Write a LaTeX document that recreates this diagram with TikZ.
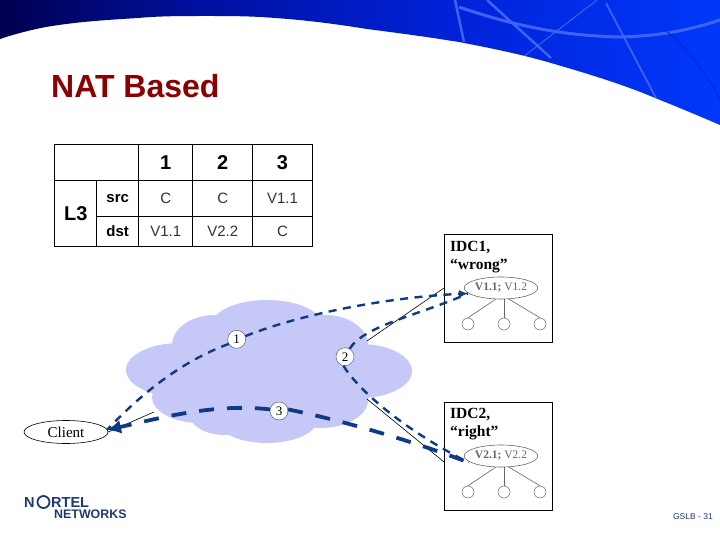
\documentclass[tikz,border=0pt]{standalone}
\usepackage{fontspec}
\setmainfont{Liberation Sans}
\newfontfamily\serifx{Liberation Serif}
\usetikzlibrary{arrows.meta,shapes.geometric}
\definecolor{arrowblue}{HTML}{0F3A85}
\definecolor{cloudfill}{HTML}{C6C8F8}
\definecolor{titlered}{HTML}{8B0000}
\definecolor{logoblue}{HTML}{1F3A72}
\definecolor{leafgray}{HTML}{666666}
\definecolor{bannerA}{HTML}{000050}
\definecolor{bannerB}{HTML}{0010A0}
\definecolor{bannerC}{HTML}{0022D8}
\definecolor{bannerD}{HTML}{0038FA}
\definecolor{streak}{HTML}{3F62F0}
\tikzset{
  x=1pt,y=-1pt,
  tabletext/.style={font=\fontsize{15}{15}\selectfont,text=black!80,inner sep=0pt},
  tablehead/.style={font=\bfseries\fontsize{20}{20}\selectfont,inner sep=0pt},
  tablerow/.style={font=\bfseries\fontsize{15}{15}\selectfont,inner sep=0pt},
  gridline/.style={draw=black,line width=0.7pt},
  idcbox/.style={draw=black,line width=0.7pt,fill=white,minimum width=108.5pt,minimum height=108pt,inner sep=0pt},
  idctext/.style={font=\serifx\bfseries\fontsize{15.5}{18}\selectfont,align=left,anchor=north west,inner sep=0pt},
  vipoval/.style={ellipse,draw=leafgray,fill=white,line width=0.6pt,minimum width=66pt,minimum height=22pt,inner sep=0pt,text=leafgray,font=\serifx\fontsize{11.5}{12}\selectfont},
  leaf/.style={circle,draw=leafgray,fill=white,line width=0.5pt,minimum size=12pt,inner sep=0pt},
  leafline/.style={draw=leafgray,line width=0.6pt},
  stepnum/.style={circle,draw=black!70,fill=white,line width=0.4pt,minimum size=18pt,inner sep=0pt,font=\serifx\fontsize{13}{13}\selectfont},
  clientoval/.style={ellipse,draw=black,fill=white,line width=0.6pt,minimum width=84pt,minimum height=23pt,inner sep=0pt,font=\serifx\fontsize{15}{15}\selectfont},
  thinlink/.style={draw=black,line width=0.6pt},
  flowmed/.style={draw=arrowblue,line width=2.4pt,dash pattern=on 8pt off 6.5pt},
  flowthick/.style={draw=arrowblue,line width=3.8pt,dash pattern=on 15pt off 13pt},
  headtip/.style={-{Latex[length=14pt,width=14pt]}},
  smallhead/.style={-{Latex[length=9pt,width=8pt]}},
  logotext/.style={anchor=base west,inner sep=0pt,text=logoblue,font=\bfseries\fontsize{14.5}{15}\selectfont},
}
\begin{document}
\begin{tikzpicture}
\useasboundingbox (0,0) rectangle (720,540);
\fill[white] (0,0) rectangle (720,540);
% banner
\begin{scope}
\clip (0,0) -- (720,0) -- (720,125) .. controls (690,112) and (665,102) .. (643,93)
  .. controls (612,81) and (582,72) .. (551,63)
  .. controls (520,54) and (490,48) .. (459,42)
  .. controls (428,37) and (398,33) .. (367,29)
  .. controls (336,24) and (305,20) .. (275,18)
  .. controls (250,16) and (230,16) .. (207,16)
  .. controls (180,16) and (160,16) .. (138,18)
  .. controls (105,20) and (75,22) .. (46,27)
  .. controls (30,30) and (15,34) .. (0,39) -- cycle;
\shade[left color=bannerC,right color=bannerD] (449,0) rectangle (720,130);
\shade[left color=bannerB,right color=bannerC] (199,0) rectangle (450,130);
\shade[left color=bannerA,right color=bannerB] (0,0) rectangle (200,130);
\draw[streak,line width=2.5pt] (455,0) -- (464,42);
\draw[streak,line width=2.5pt] (487,0) -- (551,58);
\draw[streak,line width=3pt] (459,7) .. controls (520,28) and (570,36) .. (620,37) .. controls (660,36) and (690,30) .. (720,20);
\draw[streak,line width=1.8pt] (606,3) -- (657,100);
\draw[streak,line width=1pt] (597,0) -- (523,57);
\draw[bannerC,line width=0.8pt] (665,30) .. controls (690,50) and (710,80) .. (720,100);
\end{scope}
% title
\node[anchor=base west,inner sep=0pt,text=titlered,font=\bfseries\fontsize{32}{32}\selectfont] (title) at (51,98) {NAT Based};
% table
\draw[gridline] (54.7,144.3) rectangle (312.3,246.3);
\draw[gridline] (54.7,180.7) -- (312.3,180.7);
\draw[gridline] (96.7,216.3) -- (312.3,216.3);
\draw[gridline] (96.7,180.7) -- (96.7,246.3);
\draw[gridline] (138.7,144.3) -- (138.7,246.3);
\draw[gridline] (192.7,144.3) -- (192.7,246.3);
\draw[gridline] (252.7,144.3) -- (252.7,246.3);
\node[tablehead] (h1) at (165.7,163) {1};
\node[tablehead] (h2) at (222.7,163) {2};
\node[tablehead] (h3) at (282.5,163) {3};
\node[font=\bfseries\fontsize{20}{20}\selectfont,inner sep=0pt] (l3) at (75.7,213.5) {L3};
\node[tablerow] (src) at (117.7,199) {src};
\node[tablerow] (dst) at (117.7,231.5) {dst};
\node[tabletext] (c11) at (165.7,198.5) {C};
\node[tabletext] (c12) at (222.7,198.5) {C};
\node[tabletext] (c13) at (282.5,198.5) {V1.1};
\node[tabletext] (c21) at (165.7,231.5) {V1.1};
\node[tabletext] (c22) at (222.7,231.5) {V2.2};
\node[tabletext] (c23) at (282.5,231.5) {C};
% cloud
\fill[cloudfill]
  (180,370) ellipse [x radius=54,y radius=27]
  (360,371) ellipse [x radius=52,y radius=27]
  (267,325) ellipse [x radius=55,y radius=25]
  (215,345) ellipse [x radius=43,y radius=30]
  (325,345) ellipse [x radius=43,y radius=30]
  (270,370) ellipse [x radius=100,y radius=50]
  (200,397) ellipse [x radius=48,y radius=26]
  (225,415) ellipse [x radius=35,y radius=20]
  (267,420) ellipse [x radius=50,y radius=23]
  (320,400) ellipse [x radius=48,y radius=28];
% IDC boxes
\node[idcbox] (box1) at (498.3,288) {};
\node[idcbox] (box2) at (498.3,456) {};
\node[idctext] (t1) at (450,241) {IDC1,\\“wrong”};
\node[idctext] (t2) at (450,408.5) {IDC2,\\“right”};
\node[vipoval] (vip1) at (501,288) {\textbf{V1.1;} V1.2};
\node[vipoval] (vip2) at (501,456) {\textbf{V2.1;} V2.2};
\foreach \b/\y in {1/324,2/492}{
  \node[leaf] (l\b a) at (468,\y) {};
  \node[leaf] (l\b b) at (504,\y) {};
  \node[leaf] (l\b c) at (540,\y) {};
  \draw[leafline] (vip\b.-115) -- (l\b a.north);
  \draw[leafline] (vip\b.south -| l\b b.north) -- (l\b b.north);
  \draw[leafline] (vip\b.-55) -- (l\b c.north);
}
% client
\node[clientoval] (client) at (66,432) {Client};
% thin links
\coordinate (cl1) at (367,341);
\coordinate (cl2) at (367,399);
\coordinate (cl3) at (154,412);
\coordinate (b1w) at (444,288);
\coordinate (b2w) at (444,462);
\draw[thinlink] (cl1) -- (b1w);
\draw[thinlink] (cl2) -- (b2w);
\draw[thinlink] (cl3) -- (client.east);
% step numbers
\node[stepnum] (n1) at (236.7,339.3) {1};
\node[stepnum] (n2) at (345,356.7) {2};
\node[stepnum] (n3) at (279,411) {3};
\coordinate (v1in) at (468,293.5);
\coordinate (v2in) at (468.5,462.5);
\coordinate (cin) at (107,430);
% flows
\draw[flowmed] (n1.-150) .. controls (180,362) and (140,395) .. (cin);
\draw[flowmed,smallhead] (n1.20) .. controls (300,314) and (390,297) .. (v1in);
\draw[flowmed] (n2.60) .. controls (365,325) and (420,315) .. (v1in);
\draw[flowmed] (n2.-100) .. controls (355,385) and (395,425) .. (v2in);
\draw[flowthick,headtip] (n3.170) .. controls (215,403) and (160,418) .. (cin);
\draw[flowthick] (n3.10) .. controls (340,420) and (410,440) .. (v2in);
% logo
\node[logotext] (logoN) at (24,507) {N};
\node[logotext] (logoRtel) at (51,507) {RTEL};
\node[circle,draw=logoblue,line width=1.8pt,minimum size=12pt,inner sep=0pt] (logoO) at (43.5,502) {};
\node[anchor=base west,inner sep=0pt,text=logoblue,font=\bfseries\fontsize{12.4}{12}\selectfont] (logoNet) at (54,518.5) {NETWORKS};
% page number
\node[anchor=base east,inner sep=0pt,text=logoblue,font=\fontsize{8.5}{9}\selectfont] (page) at (713,519) {GSLB - 31};
\end{tikzpicture}
\end{document}
